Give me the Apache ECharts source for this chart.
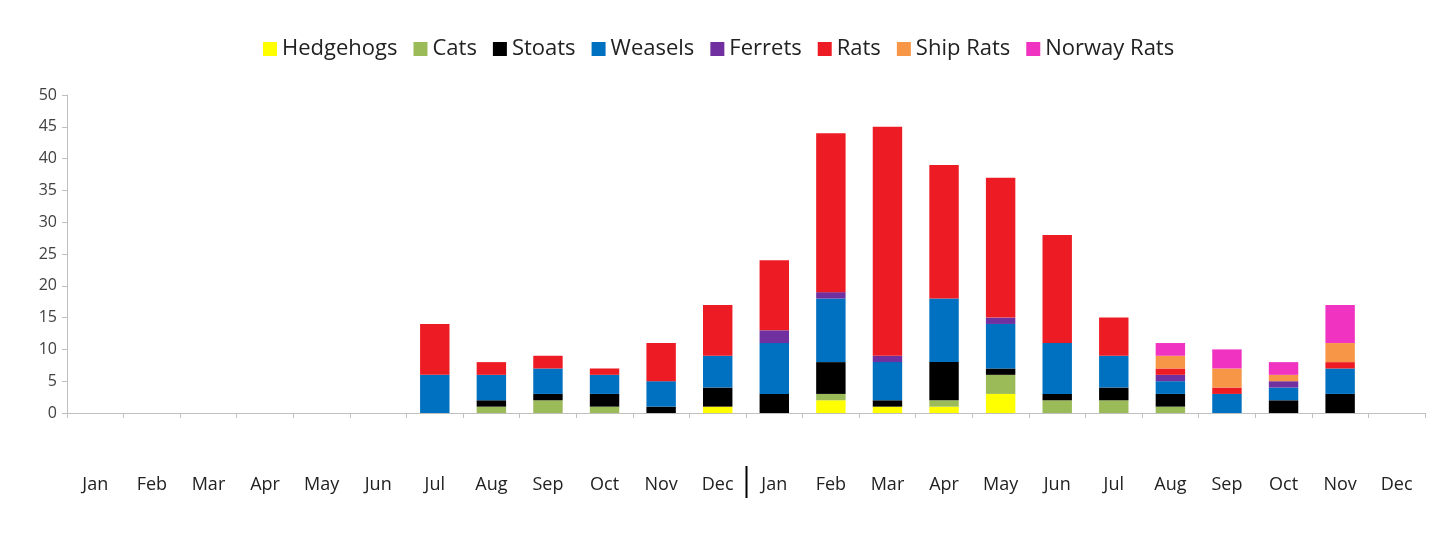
<!DOCTYPE html>
<html>
<head>
<meta charset="utf-8">
<script src="https://cdn.jsdelivr.net/npm/echarts@6/dist/echarts.min.js"></script>
<style>html,body{margin:0;padding:0;background:#fff}#c{width:1454px;height:536px}</style>
</head>
<body>
<div id="c"></div>
<script>
const months = ['Jan','Feb','Mar','Apr','May','Jun','Jul','Aug','Sep','Oct','Nov','Dec','Jan','Feb','Mar','Apr','May','Jun','Jul','Aug','Sep','Oct','Nov','Dec'];
const yTicks = [0,5,10,15,20,25,30,35,40,45,50];
const hedgehogs = [0,0,0,0,0,0,0,0,0,0,0,1, 0,2,1,1,3,0,0,0,0,0,0,0];
const cats      = [0,0,0,0,0,0,0,1,2,1,0,0, 0,1,0,1,3,2,2,1,0,0,0,0];
const stoats    = [0,0,0,0,0,0,0,1,1,2,1,3, 3,5,1,6,1,1,2,2,0,2,3,0];
const weasels   = [0,0,0,0,0,0,6,4,4,3,4,5, 8,10,6,10,7,8,5,2,3,2,4,0];
const ferrets   = [0,0,0,0,0,0,0,0,0,0,0,0, 2,1,1,0,1,0,0,1,0,1,0,0];
const rats      = [0,0,0,0,0,0,8,2,2,1,6,8, 11,25,36,21,22,17,6,1,1,0,1,0];
const shipRats  = [0,0,0,0,0,0,0,0,0,0,0,0, 0,0,0,0,0,0,0,2,3,1,3,0];
const norwayRats= [0,0,0,0,0,0,0,0,0,0,0,0, 0,0,0,0,0,0,0,2,3,2,6,0];

const seriesDefs = [
  ['Hedgehogs', hedgehogs, '#FFFF00'],
  ['Cats', cats, '#9BBB59'],
  ['Stoats', stoats, '#000000'],
  ['Weasels', weasels, '#0070C0'],
  ['Ferrets', ferrets, '#7030A0'],
  ['Rats', rats, '#ED1C24'],
  ['Ship Rats', shipRats, '#F79646'],
  ['Norway Rats', norwayRats, '#F033C0']
];

const chart = echarts.init(document.getElementById('c'), null, {renderer:'canvas'});
const font = "'Open Sans', 'Liberation Sans', sans-serif";
chart.setOption({
  animation: false,
  backgroundColor: '#fff',
  legend: {
    top: 33, left: 258,
    itemWidth: 14, itemHeight: 14, itemGap: 16,
    icon: 'rect',
    textStyle: {fontFamily: font, fontSize: 22, color: '#222'},
    data: seriesDefs.map(s => s[0])
  },
  grid: {left: 67, right: 29, top: 95, bottom: 123, containLabel: false},
  xAxis: {
    type: 'category', data: months,
    axisLine: {lineStyle: {color: '#bfbfbf', width: 1}},
    axisTick: {show: true, length: 5, lineStyle: {color: '#bfbfbf'}},
    axisLabel: {margin: 63, fontFamily: font, fontSize: 18, color: '#222', interval: 0},
    splitLine: {show: false}
  },
  yAxis: {
    type: 'value', min: yTicks[0], max: yTicks[yTicks.length-1], interval: 5,
    axisLine: {show: true, lineStyle: {color: '#bfbfbf'}},
    axisTick: {show: true, length: 5, lineStyle: {color: '#bfbfbf'}},
    axisLabel: {fontFamily: font, fontSize: 16, color: '#404040', margin: 10},
    splitLine: {show: false}
  },
  series: seriesDefs.map(s => ({
    name: s[0], type: 'bar', stack: 'total', data: s[1],
    barWidth: '52%', itemStyle: {color: s[2]}
  }))
});
// separator between the two years, placed from the axis scale
const p1 = chart.convertToPixel({xAxisIndex: 0}, 11);
const p2 = chart.convertToPixel({xAxisIndex: 0}, 12);
const sx = Math.round((p1 + p2) / 2) + 0.5;
chart.setOption({
  graphic: [{type: 'line', shape: {x1: sx, y1: 466, x2: sx, y2: 498}, style: {stroke: '#000', lineWidth: 2}}]
});
</script>
</body>
</html>
